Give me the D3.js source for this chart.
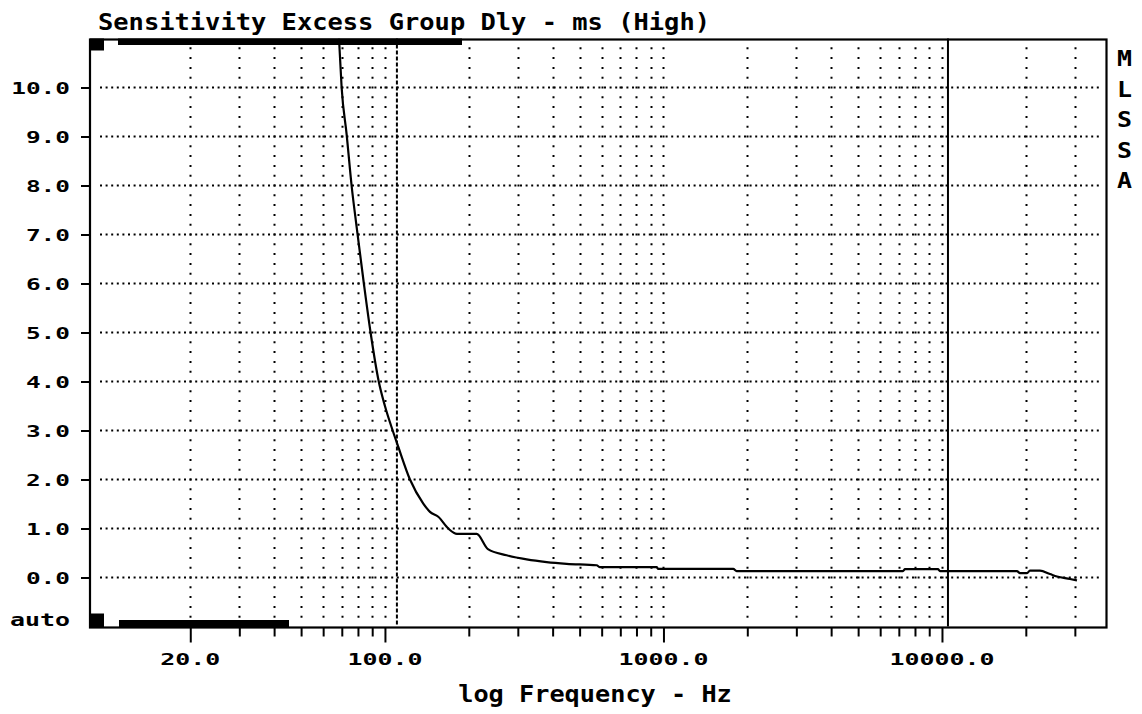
<!DOCTYPE html>
<html><head><meta charset="utf-8">
<script src="https://cdn.jsdelivr.net/npm/d3@7/dist/d3.min.js"></script>
<style>body{margin:0;background:#fff}svg{display:block}</style>
</head><body>
<svg id="chart" width="1142" height="714"></svg>
<script>
// ---- data ----
const titleText = "Sensitivity Excess Group Dly - ms (High)";
const xAxisTitle = "log Frequency - Hz";
const sideLetters = ["M", "L", "S", "S", "A"];
const freqDomain = [8.73, 38970];
const valueDomain = [-1, 11];
const freqTicks = [20,30,40,50,60,70,80,90,100,200,300,400,500,600,700,800,900,
  1000,2000,3000,4000,5000,6000,7000,8000,9000,10000,20000,30000];
const freqLabelTicks = [20, 100, 1000, 10000];
const valueTicks = [0,1,2,3,4,5,6,7,8,9,10];
const autoLabel = "auto";
const cursorDashedHz = 110.4;
const cursorSolidHz = 10508;
const freqs = [68.4,69.9,72.9,75.9,79.1,84.0,88.8,95.0,100.0,106.6,111.6,123.0,137.3,145.1,155.4,
  168.8,181.4,213.5,234.3,273.5,322.7,380.7,449.1,575.6,591.6,945.4,957.9,1781,1831,7244,7365,
  9674,9835,18590,19060,20200,20700,22480,24420,25870,28820,30530];
const delayMs = [11.0,10.0,9.03,8.0,7.16,6.0,5.0,4.0,3.5,3.0,2.67,2.0,1.51,1.34,1.24,
  1.0,0.89,0.89,0.58,0.455,0.37,0.315,0.28,0.25,0.21,0.21,0.175,0.175,0.13,0.13,0.17,
  0.17,0.13,0.13,0.09,0.09,0.14,0.14,0.07,0.02,-0.03,-0.06];

// ---- layout ----
const L = 90, R = 1106.5, T = 38.5, B = 626.5;
const FONT = "'DejaVu Sans Mono', monospace";
const svg = d3.select("#chart");
const x = d3.scaleLog().domain(freqDomain).range([L, R]);
const y = d3.scaleLinear().domain(valueDomain).range([B, T]);

function label(str, xl, base, size, width, anchor) {
  const t = svg.append("text").attr("font-family", FONT).attr("font-weight", "bold")
    .attr("font-size", size).attr("y", base).attr("fill", "#000")
    .attr("textLength", width).attr("lengthAdjust", "spacingAndGlyphs").text(str);
  let x0 = xl;
  if (anchor === "end") x0 = xl - width;
  if (anchor === "middle") x0 = xl - width / 2;
  t.attr("x", x0);
  return t;
}

// vertical dotted grid
const vDotStart = y(-0.8) + 1, vDotEnd = y(10.9);
svg.append("g").selectAll("line").data(freqTicks).join("line")
  .attr("x1", d => Math.round(x(d)) + 0.5).attr("x2", d => Math.round(x(d)) + 0.5)
  .attr("y1", vDotStart).attr("y2", vDotEnd)
  .attr("stroke", "#000").attr("stroke-width", 2)
  .attr("stroke-dasharray", `2,${(y(0) - y(0.2)) - 2}`);

// horizontal dotted grid
svg.append("g").selectAll("line").data(valueTicks).join("line")
  .attr("x1", 100).attr("x2", 1099)
  .attr("y1", d => y(d)).attr("y2", d => y(d))
  .attr("stroke", "#000").attr("stroke-width", 2)
  .attr("stroke-dasharray", "2,3.6");

// cursors
svg.append("line").attr("x1", x(cursorDashedHz)).attr("x2", x(cursorDashedHz))
  .attr("y1", T).attr("y2", B).attr("stroke", "#000").attr("stroke-width", 2)
  .attr("stroke-dasharray", "4,2");
svg.append("line").attr("x1", x(cursorSolidHz)).attr("x2", x(cursorSolidHz))
  .attr("y1", T).attr("y2", B).attr("stroke", "#000").attr("stroke-width", 2);

// curve
svg.append("clipPath").attr("id", "clip").append("rect")
  .attr("x", L).attr("y", T).attr("width", R - L).attr("height", B - T);
const pts = freqs.map((f, i) => [f, delayMs[i]]);
svg.append("path").datum(pts).attr("clip-path", "url(#clip)")
  .attr("fill", "none").attr("stroke", "#000").attr("stroke-width", 2.2)
  .attr("d", d3.line().x(d => x(d[0])).y(d => y(d[1])).curve(d3.curveMonotoneX));

// frame
svg.append("rect").attr("x", L).attr("y", T + 1).attr("width", R - L).attr("height", B - T)
  .attr("fill", "none").attr("stroke", "#000").attr("stroke-width", 2.2);

// scroll indicator blocks
svg.append("rect").attr("x", L).attr("y", T).attr("width", 14).attr("height", 12).attr("fill", "#000");
svg.append("rect").attr("x", 118).attr("y", T).attr("width", 344).attr("height", 6.5).attr("fill", "#000");
svg.append("rect").attr("x", L).attr("y", B - 13).attr("width", 14).attr("height", 14).attr("fill", "#000");
svg.append("rect").attr("x", 119).attr("y", B - 6.5).attr("width", 170).attr("height", 7.5).attr("fill", "#000");

// x axis ticks
const xAxis = d3.axisBottom(x).tickValues(freqTicks).tickSize(9).tickFormat("");
const gx = svg.append("g").attr("transform", `translate(0,${B + 1})`).call(xAxis);
gx.select(".domain").remove();
gx.selectAll(".tick line").attr("stroke", "#000").attr("stroke-width", 2)
  .attr("y2", d => freqLabelTicks.includes(d) ? 15 : 9);
freqLabelTicks.forEach(f => {
  const s = d3.format(".1f")(f);
  label(s, x(f), 664.5, 16.5, s.length * 15, "middle");
});

// y axis ticks
const yAxis = d3.axisLeft(y).tickValues(valueTicks).tickSize(9).tickFormat("");
const gy = svg.append("g").attr("transform", `translate(${L},0)`).call(yAxis);
gy.select(".domain").remove();
gy.selectAll(".tick line").attr("stroke", "#000").attr("stroke-width", 2);
valueTicks.forEach(v => {
  const s = d3.format(".1f")(v);
  label(s, 70, y(v) + 6.5, 16, s.length * 14.7, "end");
});
label(autoLabel, 70, 626, 17, 60, "end");

// titles
label(titleText, 98, 30, 23, titleText.length * 15.3, "start");
label(xAxisTitle, 595, 701.5, 23, xAxisTitle.length * 15.2, "middle");

// side letters
sideLetters.forEach((c, i) => {
  label(c, 1124.5, 66 + i * 30.5, 22, 15, "middle");
});
</script>
</body></html>
